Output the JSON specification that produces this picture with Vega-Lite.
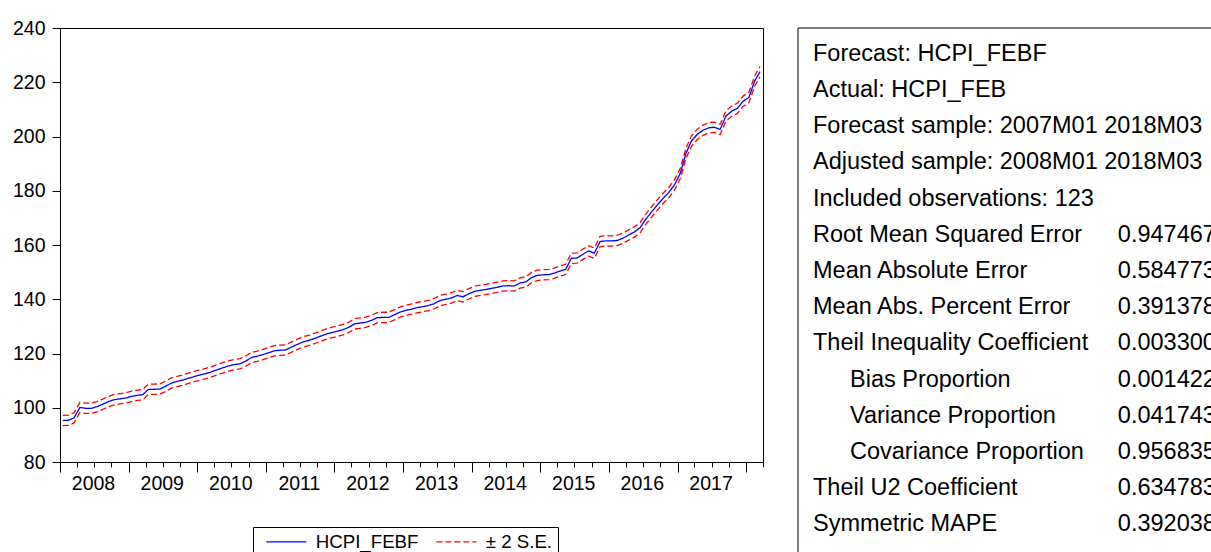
{
  "$schema": "https://vega.github.io/schema/vega-lite/v6.json",
  "background": "white",
  "padding": {"left": 11, "top": 17, "right": 0, "bottom": 0},
  "bounds": "flush",
  "spacing": 35,
  "config": {
    "font": "Liberation Sans",
    "view": {"stroke": "black", "strokeWidth": 1},
    "axis": {"labelColor": "black", "tickColor": "black", "grid": false, "domain": false, "tickWidth": 1}
  },
  "datasets": {
    "fc": [
      {"d":"2008-01-16","f":95.3,"lo":93.4,"hi":97.2},
      {"d":"2008-02-16","f":95.4,"lo":93.5,"hi":97.3},
      {"d":"2008-03-16","f":96.3,"lo":94.4,"hi":98.2},
      {"d":"2008-04-16","f":100.1,"lo":98.2,"hi":102.0},
      {"d":"2008-05-16","f":99.8,"lo":97.9,"hi":101.7},
      {"d":"2008-06-16","f":99.8,"lo":97.9,"hi":101.7},
      {"d":"2008-07-16","f":100.4,"lo":98.5,"hi":102.3},
      {"d":"2008-08-16","f":101.3,"lo":99.4,"hi":103.2},
      {"d":"2008-09-16","f":102.3,"lo":100.4,"hi":104.2},
      {"d":"2008-10-16","f":103.0,"lo":101.1,"hi":104.9},
      {"d":"2008-11-16","f":103.3,"lo":101.4,"hi":105.2},
      {"d":"2008-12-16","f":103.6,"lo":101.7,"hi":105.5},
      {"d":"2009-01-16","f":104.2,"lo":102.3,"hi":106.1},
      {"d":"2009-02-16","f":104.6,"lo":102.7,"hi":106.5},
      {"d":"2009-03-16","f":104.8,"lo":102.9,"hi":106.7},
      {"d":"2009-04-16","f":106.8,"lo":104.9,"hi":108.7},
      {"d":"2009-05-16","f":106.8,"lo":104.9,"hi":108.7},
      {"d":"2009-06-16","f":106.9,"lo":105.0,"hi":108.8},
      {"d":"2009-07-16","f":107.9,"lo":106.0,"hi":109.8},
      {"d":"2009-08-16","f":109.1,"lo":107.2,"hi":111.0},
      {"d":"2009-09-16","f":109.7,"lo":107.8,"hi":111.6},
      {"d":"2009-10-16","f":110.2,"lo":108.3,"hi":112.1},
      {"d":"2009-11-16","f":110.9,"lo":109.0,"hi":112.8},
      {"d":"2009-12-16","f":111.5,"lo":109.6,"hi":113.4},
      {"d":"2010-01-16","f":112.1,"lo":110.2,"hi":114.0},
      {"d":"2010-02-16","f":112.6,"lo":110.7,"hi":114.5},
      {"d":"2010-03-16","f":113.2,"lo":111.3,"hi":115.1},
      {"d":"2010-04-16","f":114.0,"lo":112.1,"hi":115.9},
      {"d":"2010-05-16","f":114.7,"lo":112.8,"hi":116.6},
      {"d":"2010-06-16","f":115.4,"lo":113.5,"hi":117.3},
      {"d":"2010-07-16","f":115.9,"lo":114.0,"hi":117.8},
      {"d":"2010-08-16","f":116.2,"lo":114.3,"hi":118.1},
      {"d":"2010-09-16","f":117.2,"lo":115.3,"hi":119.1},
      {"d":"2010-10-16","f":118.5,"lo":116.6,"hi":120.4},
      {"d":"2010-11-16","f":119.0,"lo":117.1,"hi":120.9},
      {"d":"2010-12-16","f":119.6,"lo":117.7,"hi":121.5},
      {"d":"2011-01-16","f":120.3,"lo":118.4,"hi":122.2},
      {"d":"2011-02-16","f":121.0,"lo":119.1,"hi":122.9},
      {"d":"2011-03-16","f":121.2,"lo":119.3,"hi":123.1},
      {"d":"2011-04-16","f":121.3,"lo":119.4,"hi":123.2},
      {"d":"2011-05-16","f":122.3,"lo":120.4,"hi":124.2},
      {"d":"2011-06-16","f":123.3,"lo":121.4,"hi":125.2},
      {"d":"2011-07-16","f":124.2,"lo":122.3,"hi":126.1},
      {"d":"2011-08-16","f":124.8,"lo":122.9,"hi":126.7},
      {"d":"2011-09-16","f":125.5,"lo":123.6,"hi":127.4},
      {"d":"2011-10-16","f":126.3,"lo":124.4,"hi":128.2},
      {"d":"2011-11-16","f":127.1,"lo":125.2,"hi":129.0},
      {"d":"2011-12-16","f":127.7,"lo":125.8,"hi":129.6},
      {"d":"2012-01-16","f":128.2,"lo":126.3,"hi":130.1},
      {"d":"2012-02-16","f":128.8,"lo":126.9,"hi":130.7},
      {"d":"2012-03-16","f":129.6,"lo":127.7,"hi":131.5},
      {"d":"2012-04-16","f":130.9,"lo":129.0,"hi":132.8},
      {"d":"2012-05-16","f":131.2,"lo":129.3,"hi":133.1},
      {"d":"2012-06-16","f":131.5,"lo":129.6,"hi":133.4},
      {"d":"2012-07-16","f":132.2,"lo":130.3,"hi":134.1},
      {"d":"2012-08-16","f":133.2,"lo":131.3,"hi":135.1},
      {"d":"2012-09-16","f":133.3,"lo":131.4,"hi":135.2},
      {"d":"2012-10-16","f":133.3,"lo":131.4,"hi":135.2},
      {"d":"2012-11-16","f":134.3,"lo":132.4,"hi":136.2},
      {"d":"2012-12-16","f":135.3,"lo":133.4,"hi":137.2},
      {"d":"2013-01-16","f":135.9,"lo":134.0,"hi":137.8},
      {"d":"2013-02-16","f":136.4,"lo":134.5,"hi":138.3},
      {"d":"2013-03-16","f":136.9,"lo":135.0,"hi":138.8},
      {"d":"2013-04-16","f":137.3,"lo":135.4,"hi":139.2},
      {"d":"2013-05-16","f":137.7,"lo":135.8,"hi":139.6},
      {"d":"2013-06-16","f":138.4,"lo":136.5,"hi":140.3},
      {"d":"2013-07-16","f":139.5,"lo":137.6,"hi":141.4},
      {"d":"2013-08-16","f":140.0,"lo":138.1,"hi":141.9},
      {"d":"2013-09-16","f":140.5,"lo":138.6,"hi":142.4},
      {"d":"2013-10-16","f":141.4,"lo":139.5,"hi":143.3},
      {"d":"2013-11-16","f":140.9,"lo":139.0,"hi":142.8},
      {"d":"2013-12-16","f":142.0,"lo":140.1,"hi":143.9},
      {"d":"2014-01-16","f":142.9,"lo":141.0,"hi":144.8},
      {"d":"2014-02-16","f":143.3,"lo":141.4,"hi":145.2},
      {"d":"2014-03-16","f":143.6,"lo":141.7,"hi":145.5},
      {"d":"2014-04-16","f":144.0,"lo":142.1,"hi":145.9},
      {"d":"2014-05-16","f":144.4,"lo":142.5,"hi":146.3},
      {"d":"2014-06-16","f":144.9,"lo":143.0,"hi":146.8},
      {"d":"2014-07-16","f":145.0,"lo":143.1,"hi":146.9},
      {"d":"2014-08-16","f":144.9,"lo":143.0,"hi":146.8},
      {"d":"2014-09-16","f":146.0,"lo":144.1,"hi":147.9},
      {"d":"2014-10-16","f":146.4,"lo":144.5,"hi":148.3},
      {"d":"2014-11-16","f":148.0,"lo":146.1,"hi":149.9},
      {"d":"2014-12-16","f":148.8,"lo":146.9,"hi":150.7},
      {"d":"2015-01-16","f":149.0,"lo":147.1,"hi":150.9},
      {"d":"2015-02-16","f":149.1,"lo":147.2,"hi":151.0},
      {"d":"2015-03-16","f":149.6,"lo":147.7,"hi":151.5},
      {"d":"2015-04-16","f":150.4,"lo":148.5,"hi":152.3},
      {"d":"2015-05-16","f":151.0,"lo":149.1,"hi":152.9},
      {"d":"2015-06-16","f":155.1,"lo":153.2,"hi":157.0},
      {"d":"2015-07-16","f":155.2,"lo":153.3,"hi":157.1},
      {"d":"2015-08-16","f":156.6,"lo":154.7,"hi":158.5},
      {"d":"2015-09-16","f":157.8,"lo":155.9,"hi":159.7},
      {"d":"2015-10-16","f":157.0,"lo":155.1,"hi":158.9},
      {"d":"2015-11-16","f":161.3,"lo":159.4,"hi":163.2},
      {"d":"2015-12-16","f":161.5,"lo":159.6,"hi":163.4},
      {"d":"2016-01-16","f":161.5,"lo":159.6,"hi":163.4},
      {"d":"2016-02-16","f":161.7,"lo":159.8,"hi":163.6},
      {"d":"2016-03-16","f":162.5,"lo":160.6,"hi":164.4},
      {"d":"2016-04-16","f":163.7,"lo":161.8,"hi":165.6},
      {"d":"2016-05-16","f":164.8,"lo":162.9,"hi":166.7},
      {"d":"2016-06-16","f":166.4,"lo":164.5,"hi":168.3},
      {"d":"2016-07-16","f":169.5,"lo":167.6,"hi":171.4},
      {"d":"2016-08-16","f":172.2,"lo":170.3,"hi":174.1},
      {"d":"2016-09-16","f":174.8,"lo":172.9,"hi":176.7},
      {"d":"2016-10-16","f":177.2,"lo":175.3,"hi":179.1},
      {"d":"2016-11-16","f":179.4,"lo":177.5,"hi":181.3},
      {"d":"2016-12-16","f":182.2,"lo":180.3,"hi":184.1},
      {"d":"2017-01-16","f":186.5,"lo":184.6,"hi":188.4},
      {"d":"2017-02-16","f":194.0,"lo":192.1,"hi":195.9},
      {"d":"2017-03-16","f":198.3,"lo":196.4,"hi":200.2},
      {"d":"2017-04-16","f":200.8,"lo":198.9,"hi":202.7},
      {"d":"2017-05-16","f":202.3,"lo":200.4,"hi":204.2},
      {"d":"2017-06-16","f":203.2,"lo":201.3,"hi":205.1},
      {"d":"2017-07-16","f":203.4,"lo":201.5,"hi":205.3},
      {"d":"2017-08-16","f":202.6,"lo":200.7,"hi":204.5},
      {"d":"2017-09-16","f":207.6,"lo":205.7,"hi":209.5},
      {"d":"2017-10-16","f":209.3,"lo":207.4,"hi":211.2},
      {"d":"2017-11-16","f":210.4,"lo":208.5,"hi":212.3},
      {"d":"2017-12-16","f":213.0,"lo":211.1,"hi":214.9},
      {"d":"2018-01-16","f":214.4,"lo":212.5,"hi":216.3},
      {"d":"2018-02-16","f":220.5,"lo":218.6,"hi":222.4},
      {"d":"2018-03-16","f":223.9,"lo":222.0,"hi":225.8}
    ],
    "stats": [
      {"k":0,"label":"Forecast: HCPI_FEBF","indent":0,"value":""},
      {"k":1,"label":"Actual: HCPI_FEB","indent":0,"value":""},
      {"k":2,"label":"Forecast sample: 2007M01 2018M03","indent":0,"value":""},
      {"k":3,"label":"Adjusted sample: 2008M01 2018M03","indent":0,"value":""},
      {"k":4,"label":"Included observations: 123","indent":0,"value":""},
      {"k":5,"label":"Root Mean Squared Error","indent":0,"value":"0.947467"},
      {"k":6,"label":"Mean Absolute Error","indent":0,"value":"0.584773"},
      {"k":7,"label":"Mean Abs. Percent Error","indent":0,"value":"0.391378"},
      {"k":8,"label":"Theil Inequality Coefficient","indent":0,"value":"0.003300"},
      {"k":9,"label":"Bias Proportion","indent":1,"value":"0.001422"},
      {"k":10,"label":"Variance Proportion","indent":1,"value":"0.041743"},
      {"k":11,"label":"Covariance Proportion","indent":1,"value":"0.956835"},
      {"k":12,"label":"Theil U2 Coefficient","indent":0,"value":"0.634783"},
      {"k":13,"label":"Symmetric MAPE","indent":0,"value":"0.392038"}
    ],
    "one": [{}]
  },
  "hconcat": [
    {
      "width": 703,
      "height": 434,
      "data": {"name": "fc"},
      "encoding": {
        "x": {
          "field": "d", "type": "temporal",
          "scale": {"type": "utc", "nice": false, "domain": [{"year": 2008, "month": 1, "date": 1, "utc": true}, {"year": 2018, "month": 4, "date": 1, "utc": true}]},
          "axis": {
            "title": null,
            "tickCount": {"interval": "month", "step": 3},
            "tickSize": {"condition": {"test": "utcmonth(datum.value) == 0", "value": 10}, "value": 5},
            "labelExpr": "utcmonth(datum.value) == 0 && utcyear(datum.value) < 2018 ? '' + utcyear(datum.value) : ''",
            "labelOffset": 33,
            "labelFontSize": 19.5,
            "labelPadding": 2,
            "labelFlush": false,
            "labelOverlap": false,
            "labelBound": false
          }
        },
        "y": {
          "type": "quantitative",
          "scale": {"domain": [80, 240], "nice": false, "zero": false},
          "axis": {"title": null, "values": [80, 100, 120, 140, 160, 180, 200, 220, 240], "tickSize": 8, "labelPadding": 7, "labelFontSize": 19.5}
        },
        "color": {
          "type": "nominal",
          "scale": {"domain": ["HCPI_FEBF", "± 2 S.E."], "range": ["#0000ff", "#ff0000"]},
          "legend": {"orient": "none", "legendX": 193, "legendY": 499, "direction": "horizontal", "title": null, "strokeColor": "black", "padding": 5, "symbolType": "M-4,0L4,0", "symbolSize": 100, "symbolStrokeWidth": 1.2, "labelFontSize": 18.7, "labelColor": "black", "labelOffset": 20, "columnPadding": 9, "symbolOffset": 19}
        },
        "strokeDash": {
          "type": "nominal",
          "scale": {"domain": ["HCPI_FEBF", "± 2 S.E."], "range": [[1, 0], [6, 3]]},
          "legend": {"orient": "none", "legendX": 193, "legendY": 499, "direction": "horizontal", "title": null, "strokeColor": "black", "padding": 5, "symbolType": "M-4,0L4,0", "symbolSize": 100, "symbolStrokeWidth": 1.2, "labelFontSize": 18.7, "labelColor": "black", "labelOffset": 20, "columnPadding": 9, "symbolOffset": 19}
        }
      },
      "layer": [
        {"mark": {"type": "line", "strokeWidth": 1.3}, "encoding": {"y": {"field": "hi"}, "color": {"datum": "± 2 S.E."}, "strokeDash": {"datum": "± 2 S.E."}}},
        {"mark": {"type": "line", "strokeWidth": 1.3}, "encoding": {"y": {"field": "lo"}, "color": {"datum": "± 2 S.E."}, "strokeDash": {"datum": "± 2 S.E."}}},
        {"mark": {"type": "line", "strokeWidth": 1.3}, "encoding": {"y": {"field": "f"}, "color": {"datum": "HCPI_FEBF"}, "strokeDash": {"datum": "HCPI_FEBF"}}}
      ]
    },
    {
      "width": 413,
      "height": 526,
      "view": {"stroke": null},
      "encoding": {
        "x": {"type": "quantitative", "scale": {"domain": [-0.405, 10.757], "nice": false, "zero": false}, "axis": null},
        "y": {"type": "quantitative", "scale": {"domain": [-0.71, 13.82], "reverse": true, "nice": false, "zero": false}, "axis": null}
      },
      "layer": [
        {"data": {"name": "one"}, "mark": {"type": "rule", "color": "black", "strokeWidth": 1}, "encoding": {"x": {"datum": -0.405}}},
        {"data": {"name": "one"}, "mark": {"type": "rule", "color": "black", "strokeWidth": 1}, "encoding": {"y": {"datum": -0.71}}},
        {"data": {"name": "stats"}, "mark": {"type": "text", "align": "left", "baseline": "middle", "fontSize": 23.5, "color": "black", "clip": true}, "encoding": {"x": {"field": "indent"}, "y": {"field": "k"}, "text": {"field": "label"}}},
        {"data": {"name": "stats"}, "mark": {"type": "text", "align": "left", "baseline": "middle", "fontSize": 23.5, "color": "black", "clip": true}, "encoding": {"x": {"datum": 8.24}, "y": {"field": "k"}, "text": {"field": "value"}}}
      ]
    }
  ]
}
